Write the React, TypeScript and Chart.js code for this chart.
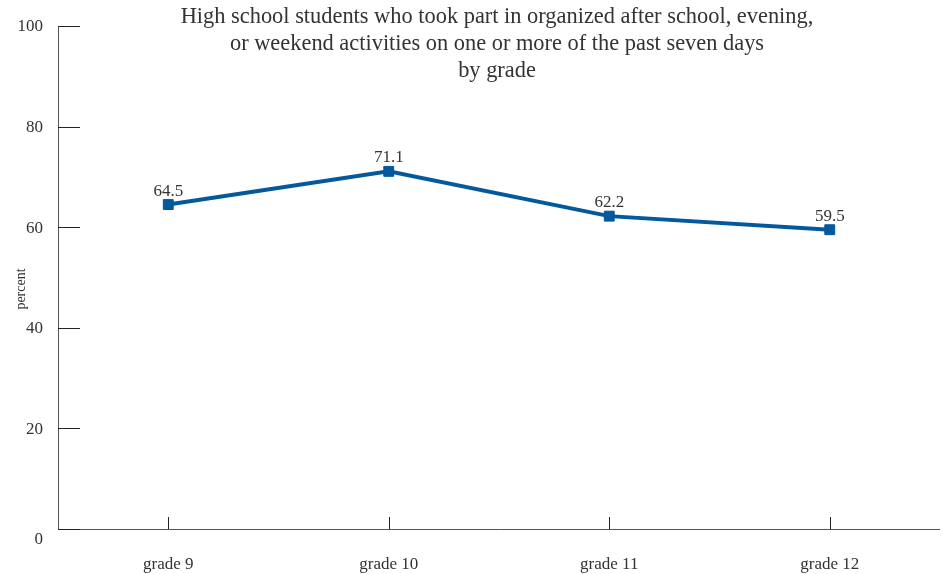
import React, { useEffect, useRef } from "react";
import { Chart, registerables } from "chart.js";

Chart.register(...registerables);

const categories = ["grade 9", "grade 10", "grade 11", "grade 12"];
const values = [64.5, 71.1, 62.2, 59.5];
const yTicks = [0, 20, 40, 60, 80, 100];
const titleLines = [
  "High school students who took part in organized after school, evening,",
  "or weekend activities on one or more of the past seven days",
  "by grade",
];
const yAxisTitle = "percent";

const FONT = "'Liberation Serif', 'DejaVu Serif', serif";
const LINE_COLOR = "#03599b";
const TEXT_COLOR = "#333333";

const customDraw = {
  id: "customDraw",
  afterDraw(chart: any) {
    const ctx = chart.ctx;
    const x = chart.scales.x;
    const y = chart.scales.y;
    const area = chart.chartArea;
    ctx.save();
    // axis lines
    ctx.strokeStyle = "#555";
    ctx.lineWidth = 1;
    ctx.beginPath();
    ctx.moveTo(area.left + 0.5, y.getPixelForValue(100));
    ctx.lineTo(area.left + 0.5, area.bottom + 0.5);
    ctx.lineTo(area.right, area.bottom + 0.5);
    ctx.stroke();
    // inner y ticks
    ctx.strokeStyle = "#222";
    yTicks.forEach((v) => {
      const py = Math.round(y.getPixelForValue(v)) + 0.5;
      ctx.beginPath();
      ctx.moveTo(area.left, py);
      ctx.lineTo(area.left + 22, py);
      ctx.stroke();
    });
    // inner x ticks
    categories.forEach((_, i) => {
      const px = Math.round(x.getPixelForValue(i)) + 0.5;
      ctx.beginPath();
      ctx.moveTo(px, area.bottom);
      ctx.lineTo(px, area.bottom - 12);
      ctx.stroke();
    });
    // y labels
    ctx.fillStyle = TEXT_COLOR;
    ctx.font = `17px ${FONT}`;
    ctx.textAlign = "right";
    ctx.textBaseline = "middle";
    yTicks.forEach((v) => {
      const py = y.getPixelForValue(v) + (v === 0 ? 11 : 1);
      ctx.fillText(String(v), 43, py);
    });
    // y axis title
    ctx.save();
    ctx.translate(21, 289);
    ctx.rotate(-Math.PI / 2);
    ctx.textAlign = "center";
    ctx.textBaseline = "middle";
    ctx.font = `14px ${FONT}`;
    ctx.fillText(yAxisTitle, 0, 0);
    ctx.restore();
    // title
    ctx.font = `22.4px ${FONT}`;
    ctx.textAlign = "center";
    ctx.textBaseline = "middle";
    titleLines.forEach((line, i) => {
      ctx.fillText(line, 497, 17 + i * 27);
    });
    // data labels
    const meta = chart.getDatasetMeta(0);
    ctx.font = `17px ${FONT}`;
    ctx.textBaseline = "alphabetic";
    meta.data.forEach((pt: any, i: number) => {
      ctx.fillText(values[i].toFixed(1), pt.x, pt.y - 9);
    });
    ctx.restore();
  },
};

export default function App() {
  const ref = useRef<HTMLCanvasElement | null>(null);
  useEffect(() => {
    if (!ref.current) return;
    const chart = new Chart(ref.current, {
      type: "line",
      data: {
        labels: categories,
        datasets: [
          {
            data: values,
            borderColor: LINE_COLOR,
            backgroundColor: LINE_COLOR,
            borderWidth: 4,
            pointStyle: "rect",
            pointRadius: 7,
            pointBorderWidth: 1,
            pointBackgroundColor: LINE_COLOR,
            pointBorderColor: LINE_COLOR,
            tension: 0,
          },
        ],
      },
      options: {
        responsive: false,
        animation: false,
        layout: { padding: { left: 0, top: 26, right: 8, bottom: 0 } },
        plugins: {
          legend: { display: false },
          tooltip: { enabled: false },
          title: { display: false },
        },
        scales: {
          x: {
            offset: true,
            grid: { display: false, drawTicks: false },
            border: { display: false },
            ticks: {
              padding: 25,
              color: TEXT_COLOR,
              font: { family: FONT, size: 17 },
              maxRotation: 0,
            },
            afterFit: (s: any) => {
              s.height = 45;
            },
          },
          y: {
            min: 0,
            max: 100,
            grid: { display: false, drawTicks: false },
            border: { display: false },
            ticks: { display: false, stepSize: 20 },
            afterFit: (s: any) => {
              s.width = 58;
            },
          },
        },
      },
      plugins: [customDraw],
    });
    return () => chart.destroy();
  }, []);
  return (
    <div style={{ position: "absolute", left: 0, top: 0, width: 948, height: 574 }}>
      <canvas ref={ref} width={948} height={574} />
    </div>
  );
}
